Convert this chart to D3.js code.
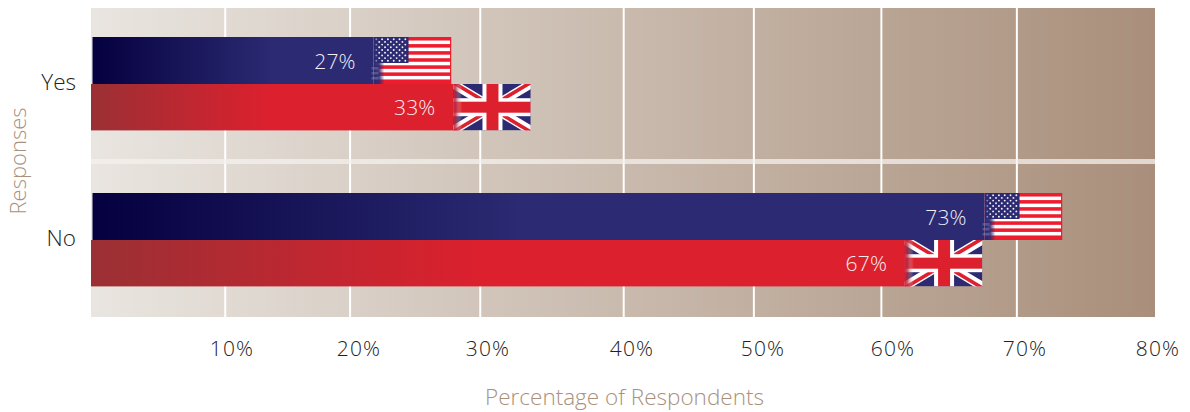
<!DOCTYPE html>
<html><head><meta charset="utf-8">
<script src="https://cdn.jsdelivr.net/npm/d3@7"></script>
<style>html,body{margin:0;padding:0;background:#fff}svg{display:block}text{font-family:"Open Sans",sans-serif;opacity:.995}</style>
</head><body><svg id="c" width="1190" height="412"></svg>
<script>
const categories = ["Yes", "No"];
const seriesNames = ["US", "UK"];
const usValues = [27, 73];
const ukValues = [33, 67];
const tickValues = [10, 20, 30, 40, 50, 60, 70, 80];
const gridValues = [10, 19.4, 29.2, 40, 49.8, 59.4, 69.6];
const xTitle = "Percentage of Respondents";
const yTitle = "Responses";

const svg = d3.select("#c"), defs = svg.append("defs");
const x = d3.scaleLinear().domain([0, 80]).range([92.4, 1155]);
const y = d3.scalePoint().domain(categories).range([84, 240]);
// printed labels sit slightly off the gridlines in the original
const tickX = d3.scaleLinear().domain(tickValues).range([232, 359, 488, 632, 763, 893, 1025, 1158]);
const barH = { US: 47, UK: 46.4 }, flagW = 77.5;
const plotLeft = 91, plotRight = 1155, plotTop = 8, plotBottom = 317;

function grad(id, x1, x2, stops) {
  const g = defs.append("linearGradient").attr("id", id).attr("gradientUnits", "userSpaceOnUse")
    .attr("x1", x1).attr("x2", x2).attr("y1", 0).attr("y2", 0);
  stops.forEach(s => g.append("stop").attr("offset", s[0]).attr("stop-color", s[1]).attr("stop-opacity", s[2] === undefined ? 1 : s[2]));
}
grad("bg", plotLeft, plotRight, [[0, "#e9e5e0"], [1, "#a98f7b"]]);
svg.append("rect").attr("x", plotLeft).attr("y", plotTop).attr("width", plotRight - plotLeft).attr("height", plotBottom - plotTop).attr("fill", "url(#bg)");

svg.append("g").selectAll("line").data(gridValues).join("line")
  .attr("x1", d => x(d)).attr("x2", d => x(d)).attr("y1", plotTop).attr("y2", plotBottom)
  .attr("stroke", "#fff").attr("stroke-width", 2);
svg.append("rect").attr("x", plotLeft).attr("y", 159).attr("width", plotRight - plotLeft).attr("height", 5)
  .attr("fill", "#f4f0ec").attr("opacity", 0.75);

const NAVY = "#2b2a72", RED = "#dc202e", FLAGRED = "#ee1c2e";

function usFlag(g, fx, fy, h) {
  const w = flagW;
  g.append("rect").attr("x", fx).attr("y", fy).attr("width", w).attr("height", h).attr("fill", "#fff");
  const sh = (h - 1) / 13;
  d3.range(0, 13, 2).forEach(i => g.append("rect").attr("x", fx).attr("y", fy + i * sh).attr("width", w)
    .attr("height", sh).attr("fill", FLAGRED));
  g.append("rect").attr("x", fx + w - 1).attr("y", fy).attr("width", 1.2).attr("height", h).attr("fill", FLAGRED);
  g.append("rect").attr("x", fx).attr("y", fy + h - 1.2).attr("width", w).attr("height", 1.2).attr("fill", FLAGRED);
  g.append("rect").attr("x", fx).attr("y", fy).attr("width", 35).attr("height", 26).attr("fill", NAVY);
  for (let r = 0; r < 9; r++) {
    const n = r % 2 ? 5 : 6;
    for (let c = 0; c < n; c++) {
      g.append("circle").attr("cx", fx + (r % 2 ? 5.7 : 2.8) + c * 5.8).attr("cy", fy + 2.2 + r * 2.7)
        .attr("r", 0.95).attr("fill", "#fff").attr("opacity", c === 0 && !(r % 2) ? 0.45 : 0.95);
    }
  }
  // soft edge into the bar
  const id = "fadeUS" + Math.round(fx);
  grad(id, fx, fx + 11, [[0, NAVY, 1], [0.5, NAVY, 0.9], [1, NAVY, 0]]);
  g.append("rect").attr("x", fx).attr("y", fy + 26).attr("width", 11).attr("height", h - 26).attr("fill", `url(#${id})`);
  [30, 35, 40].forEach(dy => g.append("rect").attr("x", fx - 2).attr("y", fy + dy).attr("width", 7).attr("height", 2.5)
    .attr("fill", "#8f8fc0").attr("opacity", 0.4));
}

function ukFlag(g, fx, fy, h) {
  const w = flagW, clip = "clipUK" + Math.round(fx);
  defs.append("clipPath").attr("id", clip).append("rect").attr("x", fx).attr("y", fy).attr("width", w).attr("height", h);
  const f = g.append("g").attr("clip-path", `url(#${clip})`);
  f.append("rect").attr("x", fx).attr("y", fy).attr("width", w).attr("height", h).attr("fill", NAVY);
  const diag = (x1, y1, x2, y2, c, sw) => f.append("line").attr("x1", x1).attr("y1", y1).attr("x2", x2).attr("y2", y2).attr("stroke", c).attr("stroke-width", sw);
  diag(fx, fy, fx + w, fy + h, "#fff", 9);
  diag(fx, fy + h, fx + w, fy, "#fff", 9);
  // thin offset red diagonals
  diag(fx, fy - 1.5, fx + w / 2, fy + h / 2 - 1.5, RED, 3.6);
  diag(fx + w / 2, fy + h / 2 + 1.5, fx + w, fy + h + 1.5, RED, 3.6);
  diag(fx, fy + h + 1.5, fx + w / 2, fy + h / 2 + 1.5, RED, 3.6);
  diag(fx + w / 2, fy + h / 2 - 1.5, fx + w, fy - 1.5, RED, 3.6);
  const cx = fx + w / 2 + 0.5, cy = fy + h / 2;
  f.append("rect").attr("x", cx - 10).attr("y", fy).attr("width", 20).attr("height", h).attr("fill", "#fff");
  f.append("rect").attr("x", fx).attr("y", cy - 9).attr("width", w).attr("height", 18).attr("fill", "#fff");
  f.append("rect").attr("x", cx - 6).attr("y", fy).attr("width", 12).attr("height", h).attr("fill", RED);
  f.append("rect").attr("x", fx).attr("y", cy - 5.5).attr("width", w).attr("height", 11).attr("fill", RED);
  const id = "fadeUK" + Math.round(fx);
  grad(id, fx, fx + 9, [[0, RED, 1], [0.3, "#a8304f", 0.75], [1, "#ffd9b8", 0]]);
  f.append("rect").attr("x", fx).attr("y", fy).attr("width", 9).attr("height", h).attr("fill", `url(#${id})`);
}

const rows = [];
categories.forEach((c, i) => {
  rows.push({ cat: c, s: "US", v: usValues[i] });
  rows.push({ cat: c, s: "UK", v: ukValues[i] });
});
const gradSpan = { US: { Yes: 180, No: 428 }, UK: { Yes: 178, No: 390 } };
const barG = svg.append("g");
rows.forEach((d, i) => {
  const isUS = d.s === "US";
  const yT = isUS ? y(d.cat) - barH.US : y(d.cat);
  const end = x(d.v);
  const id = "bar" + i;
  const startX = isUS ? plotLeft + 1.5 : plotLeft;
  grad(id, startX, startX + gradSpan[d.s][d.cat], isUS ? [[0, "#05003f"], [1, NAVY]] : [[0, "#9a3034"], [1, RED]]);
  barG.append("rect").attr("x", startX).attr("y", yT).attr("width", end - flagW - startX + 1).attr("height", barH[d.s])
    .attr("fill", `url(#${id})`);
  const fx = end - flagW;
  const fg = barG.append("g");
  if (isUS) usFlag(fg, fx, yT, barH[d.s]); else ukFlag(fg, fx, yT, barH[d.s]);
});
rows.forEach(d => {
  const isUS = d.s === "US";
  svg.append("text").attr("x", x(d.v) - flagW - 38.5).attr("y", isUS ? y(d.cat) - 22 : y(d.cat) + 24)
    .attr("dy", "0.35em").attr("text-anchor", "middle").attr("fill", isUS ? "#f0eff7" : "#fdeeee")
    .attr("font-size", 21).attr("letter-spacing", 0.2).attr("font-weight", 300).text(d.v + "%");
});

svg.append("g").selectAll("text").data(tickValues).join("text")
  .attr("x", d => tickX(d)).attr("y", 349).attr("dy", "0.35em").attr("text-anchor", "middle")
  .attr("fill", "#222").attr("font-size", 21).attr("letter-spacing", 1.2).attr("font-weight", 300).text(d => d + "%");
svg.append("g").selectAll("text").data(categories).join("text")
  .attr("x", 76).attr("y", d => y(d) - 2).attr("dy", "0.35em").attr("text-anchor", "end")
  .attr("fill", "#222").attr("font-size", 22.5).attr("font-weight", 300).text(d => d);
svg.append("text").attr("x", 624.5).attr("y", 397).attr("dy", "0.35em").attr("text-anchor", "middle")
  .attr("fill", "#a8917d").attr("font-size", 22.5).attr("font-weight", 300).text(xTitle);
svg.append("text").attr("transform", "translate(18,161) rotate(-90)").attr("dy", "0.35em").attr("text-anchor", "middle")
  .attr("fill", "#a8917d").attr("font-size", 22).attr("font-weight", 300).text(yTitle);
</script></body></html>
